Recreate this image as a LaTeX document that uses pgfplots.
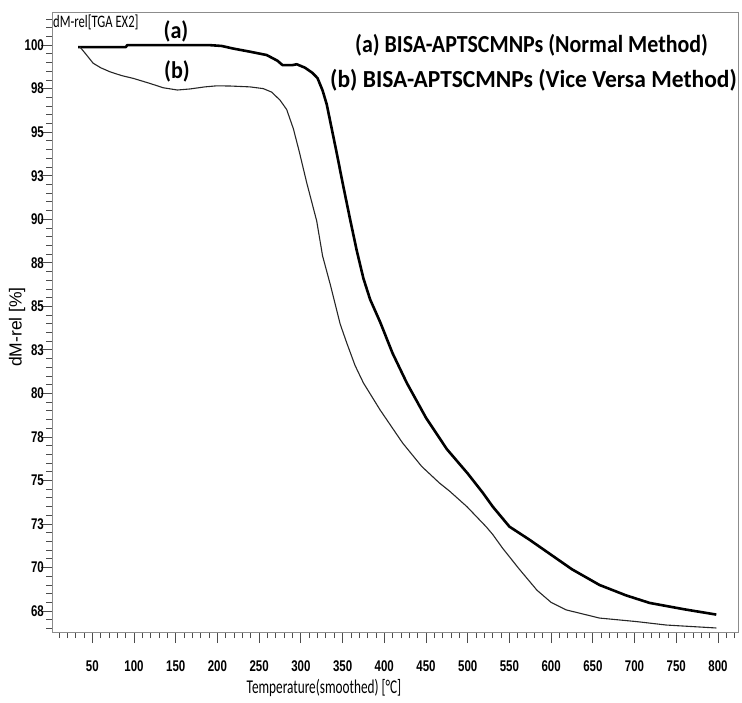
\documentclass[border=0pt]{standalone}
\usepackage{pgfplots}
\pgfplotsset{compat=1.18}
\usepackage{fontspec}
\setmainfont{Liberation Sans}
\newfontfamily\tickfont[FakeStretch=0.74]{Liberation Sans}
\newfontfamily\legfontA[FakeStretch=0.895]{Carlito}
\newfontfamily\legfontB[FakeStretch=0.96]{Carlito}
\newfontfamily\legfont[FakeStretch=0.92]{Carlito}
\newfontfamily\xlabfont[FakeStretch=0.68]{Carlito}
\newfontfamily\titfont[FakeStretch=0.72]{Carlito}

\begin{document}
\begin{tikzpicture}[x=1pt,y=1pt]
\path[use as bounding box] (-52,-70) rectangle (690,632);
\begin{axis}[
  at={(0,0)}, anchor=south west,
  width=686pt, height=620pt, scale only axis,
  xmin=1.7, xmax=824, ymin=66.3, ymax=101.9,
  axis line style={draw=black!45, line width=0.8pt},
  tick align=outside,
  xtick pos=left, ytick pos=left,
  tick style={black!70, line width=0.8pt},
  major tick length=11pt, minor tick length=6pt,
  xtick={50,100,...,800},
  minor xtick={10,20,...,820},
  ytick={67.5,70,72.5,75,77.5,80,82.5,85,87.5,90,92.5,95,97.5,100},
  yticklabels={68,70,73,75,78,80,83,85,88,90,93,95,98,100},
  minor ytick={66.5,67,67.5,68,68.5,69,69.5,70,70.5,71,71.5,72,72.5,73,73.5,74,74.5,75,75.5,76,76.5,77,77.5,78,78.5,79,79.5,80,80.5,81,81.5,82,82.5,83,83.5,84,84.5,85,85.5,86,86.5,87,87.5,88,88.5,89,89.5,90,90.5,91,91.5,92,92.5,93,93.5,94,94.5,95,95.5,96,96.5,97,97.5,98,98.5,99,99.5,100,100.5,101,101.5},
  /pgf/number format/assume math mode=true,
  ticklabel style={font=\tickfont\bfseries\fontsize{15.5}{16}\selectfont, inner sep=2pt},
  xticklabel style={yshift=-15pt},
  yticklabel style={xshift=5pt},
  clip=false,
]
% (a) Normal method
\addplot[black, line width=2.6pt, line join=round] coordinates {
(33,99.88) (60,99.88) (90,99.88) (92,100.0) (150,100.0) (190,100.0) (205,99.95)
(219,99.8) (239,99.62) (259,99.43) (272,99.1) (278,98.85) (290,98.85) (295,98.9)
(305,98.7) (314,98.4) (320,98.1) (326,97.4) (331,96.6) (337,95.2) (343,93.8)
(350,92.1) (359,90.0) (367,88.2) (375,86.6) (383,85.4) (395,84.1) (410,82.3)
(427,80.6) (450,78.6) (475,76.8) (500,75.4) (518,74.3) (530,73.5) (550,72.35)
(574,71.6) (598,70.8) (625,69.9) (658,69.0) (690,68.4) (718,67.97) (760,67.6) (798,67.3)
};
% (b) Vice versa method
\addplot[black!85, line width=1.1pt, line join=round] coordinates {
(35,99.9) (42,99.5) (51,98.96) (60,98.7) (71,98.47) (85,98.25) (99,98.09)
(119,97.8) (135,97.55) (152,97.42) (167,97.48) (185,97.6) (199,97.66) (215,97.65)
(239,97.6) (255,97.5) (265,97.3) (275,96.84) (283,96.3) (291,95.2) (298,93.9)
(307,92.1) (313,91.0) (319,89.9) (326,87.9) (335,86.3) (347,84.0) (355,82.9)
(365,81.6) (375,80.6) (395,79.05) (422,77.15) (445,75.8) (466,74.86) (478,74.4)
(499,73.5) (522,72.35) (530,71.9) (542,71.1) (562,69.9) (583,68.7) (600,68.0)
(618,67.57) (658,67.1) (702,66.9) (720,66.8) (738,66.7) (798,66.53)
};
\end{axis}
\node[anchor=base west, inner sep=0, font=\legfontA\bfseries\fontsize{24.5}{26}\selectfont] at (303,579) {(a) BISA-APTSCMNPs (Normal Method)};
\node[anchor=base west, inner sep=0, font=\legfontB\bfseries\fontsize{24.5}{26}\selectfont] at (278,544) {(b) BISA-APTSCMNPs (Vice Versa Method)};
\node[inner sep=0, font=\legfont\bfseries\fontsize{24}{26}\selectfont] at (124,601) {(a)};
\node[inner sep=0, font=\legfont\bfseries\fontsize{24}{26}\selectfont] at (125,561) {(b)};
\node[anchor=base west, inner sep=0, font=\titfont\fontsize{17.5}{18}\selectfont] at (1,604) {dM-rel[TGA EX2]};
\node[inner sep=0, font=\xlabfont\fontsize{19.5}{20}\selectfont] at (272,-56) {Temperature(smoothed) [°C]};
\node[inner sep=0, rotate=90, font=\fontsize{17.5}{18}\selectfont] at (-35,305) {dM-rel [\%]};
\end{tikzpicture}
\end{document}
